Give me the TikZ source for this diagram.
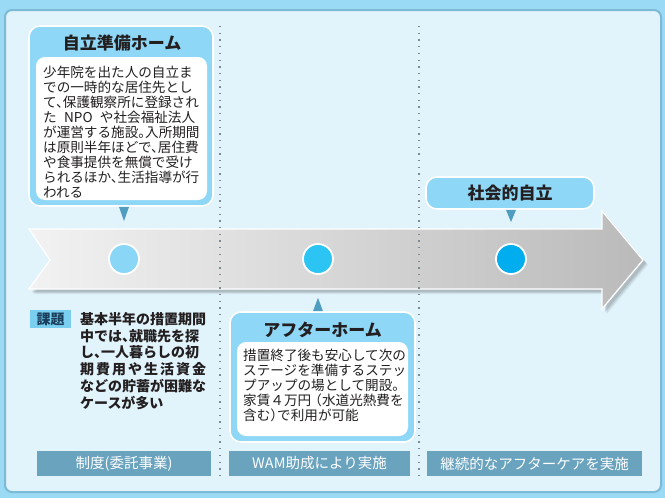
\documentclass[tikz,border=0pt]{standalone}
\usepackage{fontspec}
\setmainfont{Noto Sans CJK JP}
\definecolor{outerbg}{HTML}{9ADAF5}
\definecolor{panelbg}{HTML}{E1F3FB}
\definecolor{panelline}{HTML}{7DBAD6}
\definecolor{headbg}{HTML}{8ED7F6}
\definecolor{ptr}{HTML}{4F9DC0}
\definecolor{labbg}{HTML}{6AA3BE}
\definecolor{kadaibg}{HTML}{7ACFF0}
\definecolor{kadaitxt}{HTML}{1B3E5C}
\definecolor{txt}{HTML}{231F20}
\definecolor{cA}{HTML}{8AD6F6}
\definecolor{cB}{HTML}{2CC4F3}
\definecolor{cC}{HTML}{00ADEE}
\definecolor{dotc}{HTML}{7D8A92}
\newcommand\hk{\kern-0.5em}
\tikzset{
  headbox/.style={draw=white, line width=1.6pt, fill=headbg, rounded corners=11pt, inner sep=0pt},
  bodybox/.style={fill=white, rounded corners=9pt, inner sep=0pt},
  titletext/.style={font=\fontsize{17}{20}\selectfont\bfseries, text=txt, inner sep=0pt},
  bodytext/.style={font=\fontsize{13.6}{15}\selectfont, text=txt, align=left, inner sep=0pt},
  kadaitext/.style={font=\fontsize{14}{16.8}\selectfont\bfseries, text=txt, align=left, inner sep=0pt},
  stagelabel/.style={fill=labbg, text=white, font=\fontsize{14.5}{16}\selectfont, minimum height=25pt, inner sep=0pt},
  dotnode/.style={circle, draw=white, line width=1.8pt, minimum size=30pt, inner sep=0pt},
  dotline/.style={dotc, line width=1.5pt, dash pattern=on 1.3pt off 5.4pt},
  pointer/.style={fill=ptr}
}
\begin{document}
\begin{tikzpicture}[x=1pt,y=-1pt]
\fill[outerbg] (0,0) rectangle (665,498);
\path[use as bounding box] (0,0) rectangle (665,498);
% panel
\draw[panelline, line width=2pt, fill=panelbg, rounded corners=7pt] (5,10) rectangle (661,492);
% arrow shadow
\foreach \s/\o in {5/0.06,4/0.08,3/0.10}{
  \fill[black, opacity=\o, xshift=\s pt, yshift=-\s pt]
    (29,229) -- (602,229) -- (602,211) -- (643,260) -- (602,309) -- (602,289) -- (29,289) -- (50,260) -- cycle;
}
% arrow
\path[draw=white, line width=1.3pt, left color=black!5, middle color=black!18, right color=black!27]
  (29,229) -- (602,229) -- (602,211) -- (643,260) -- (602,309) -- (602,289) -- (29,289) -- (50,260) -- cycle;
% dotted separators
\coordinate (d1t) at (220,26); \coordinate (d1b) at (220,478);
\coordinate (d2t) at (419,26); \coordinate (d2b) at (419,478);
\draw[dotline] (d1t) -- (d1b);
\draw[dotline] (d2t) -- (d2b);
% circles
\node[dotnode, fill=cA] (p1) at (124,259) {};
\node[dotnode, fill=cB] (p2) at (318,259) {};
\node[dotnode, fill=cC] (p3) at (511,259) {};
% box 1
\node[headbox, minimum width=184pt, minimum height=180pt] (home1) at (121,116) {};
\node[bodybox, minimum width=171pt, minimum height=143pt] (home1body) at (121.5,128.5) {};
\node[titletext] (home1title) at (122,43) {自立準備ホーム};
\node[bodytext, anchor=base west] (home1text) at (43,197.2) {少年院を出た人の自立ま\\での一時的な居住先とし\\て、\hk 保護観察所に登録され\\\makebox[152pt][s]{た NPO や社会福祉法人}\\が運営する施設。\hk 入所期間\\は原則半年ほどで、\hk 居住費\\や食事提供を無償で受け\\られるほか、\hk 生活指導が行\\われる};
\fill[pointer] ([xshift=-5pt]p1 |- home1.south) -- ([xshift=5pt]p1 |- home1.south) -- ([yshift=22pt]p1.north) -- cycle;
% goal box
\node[headbox, titletext, fill=headbg, draw=white, line width=1.6pt, rounded corners=11pt, minimum width=168pt, minimum height=32pt] (goal) at (510,193) {社会的自立};
\fill[pointer] ([xshift=-5pt]p3 |- goal.south) -- ([xshift=5pt]p3 |- goal.south) -- ([yshift=21pt]p3.north) -- cycle;
% box 2
\node[headbox, minimum width=185pt, minimum height=130pt] (home2) at (322.5,377) {};
\node[bodybox, minimum width=171pt, minimum height=94pt] (home2body) at (322.5,389) {};
\node[titletext] (home2title) at (322.5,330) {アフターホーム};
\node[bodytext, anchor=base west] (home2text) at (243,420.2) {措置終了後も安心して次の\\ステージを準備するステッ\\プアップの場として開設。\\家賃４万円\kern-0.2em（水道光熱費を\\含む）\hk で利用が可能};
\fill[pointer] ([xshift=-5pt]p2 |- home2.north) -- ([xshift=5pt]p2 |- home2.north) -- ([yshift=-23pt]p2.south) -- cycle;
% kadai
\node[fill=kadaibg, text=kadaitxt, font=\fontsize{14}{16}\selectfont\bfseries, minimum width=41pt, minimum height=18pt, inner sep=0pt] (kadai) at (50.5,319) {課題};
\node[kadaitext, anchor=base west] (kadaitext) at (80,408.3) {基本半年の措置期間\\中では、\hk 就職先を探\\し、\hk 一人暮らしの初\\\makebox[126pt][s]{期\hfil 費\hfil 用\hfil や\hfil 生\hfil 活\hfil 資\hfil 金}\\などの貯蓄が困難な\\ケースが多い};
% stage labels
\node[stagelabel, minimum width=174pt] (lab1) at (124,463.5) {制度(委託事業)};
\node[stagelabel, minimum width=181pt] (lab2) at (319.5,463.5) {WAM助成により実施};
\node[stagelabel, minimum width=215pt] (lab3) at (534.5,463.5) {継続的なアフターケアを実施};
\end{tikzpicture}
\end{document}
